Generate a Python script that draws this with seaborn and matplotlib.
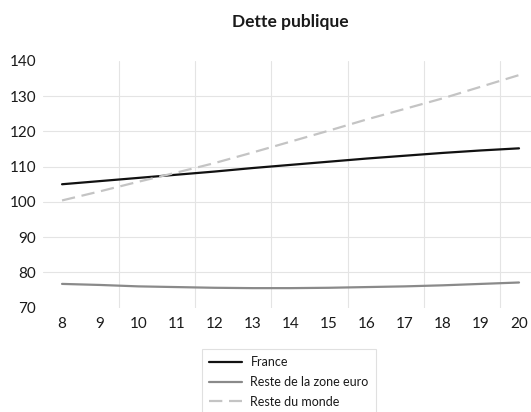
import matplotlib
matplotlib.use("Agg")
import matplotlib.pyplot as plt
import seaborn as sns
import pandas as pd
from matplotlib.lines import Line2D

years = list(range(8, 21))
france = [105.0, 105.9, 106.8, 107.7, 108.6, 109.6, 110.5, 111.4, 112.3, 113.1, 113.9, 114.6, 115.2]
zone_euro = [76.7, 76.4, 76.0, 75.8, 75.6, 75.5, 75.5, 75.6, 75.8, 76.0, 76.3, 76.7, 77.1]
monde = [100.4, 103.0, 105.7, 108.3, 111.0, 114.0, 117.1, 120.2, 123.4, 126.4, 129.4, 132.7, 136.0]
series_names = ["France", "Reste de la zone euro", "Reste du monde"]
y_ticks = [70, 80, 90, 100, 110, 120, 130, 140]

sns.set_theme(style="white")
plt.rcParams["font.family"] = ["Lato", "DejaVu Sans"]

df = pd.DataFrame({
    "annee": years * 3,
    "valeur": france + zone_euro + monde,
    "serie": [series_names[0]] * 13 + [series_names[1]] * 13 + [series_names[2]] * 13,
})

fig = plt.figure(figsize=(5.31, 4.12), dpi=100)
ax = fig.add_axes([43 / 531, 104.5 / 412, 488 / 531, 246.5 / 412])

palette = {series_names[0]: "#111111", series_names[1]: "#8a8a8a", series_names[2]: "#c4c4c4"}
dashes = {series_names[0]: "", series_names[1]: "", series_names[2]: (6, 3)}
sns.lineplot(data=df, x="annee", y="valeur", hue="serie", style="serie",
             palette=palette, dashes=dashes, linewidth=1.6, ax=ax, legend=False)

ax.set_xlim(7.5, 20.315)
ax.set_ylim(70, 140)
ax.set_xticks(years)
ax.set_xticklabels([str(y) for y in years])
ax.set_yticks(y_ticks)
ax.set_yticklabels([str(v) for v in y_ticks])
ax.set_xlabel("")
ax.set_ylabel("")

for v in y_ticks[1:-1]:
    ax.axhline(v, color="#e4e4e4", linewidth=0.8, zorder=0)
for xv in [9.5, 11.5, 13.5, 15.5, 17.5, 19.5]:
    ax.axvline(xv, color="#e4e4e4", linewidth=0.8, zorder=0)

for s in ax.spines.values():
    s.set_visible(False)
ax.tick_params(axis="both", length=0, labelsize=11, colors="#1a1a1a")
ax.tick_params(axis="x", pad=7)
ax.tick_params(axis="y", pad=5)

fig.text(290 / 531, 1 - 22 / 412, "Dette publique", ha="center", va="center",
         fontsize=12.5, fontweight="bold", color="#1a1a1a")

handles = [
    Line2D([], [], color=palette[series_names[0]], linewidth=1.6),
    Line2D([], [], color=palette[series_names[1]], linewidth=1.6),
    Line2D([], [], color=palette[series_names[2]], linewidth=1.6, dashes=(6, 3)),
]
leg = fig.legend(handles, series_names, loc="upper center",
                 bbox_to_anchor=(289 / 531, 1 - 349 / 412),
                 bbox_transform=fig.transFigure,
                 fontsize=9, frameon=True, fancybox=False, handlelength=2.6, handletextpad=0.7,
                 borderpad=0.6, labelspacing=0.6, borderaxespad=0)
leg.get_frame().set_edgecolor("#d9d9d9")
leg.get_frame().set_linewidth(0.8)
for t in leg.get_texts():
    t.set_color("#1a1a1a")

fig.savefig("out.png", dpi=100)
